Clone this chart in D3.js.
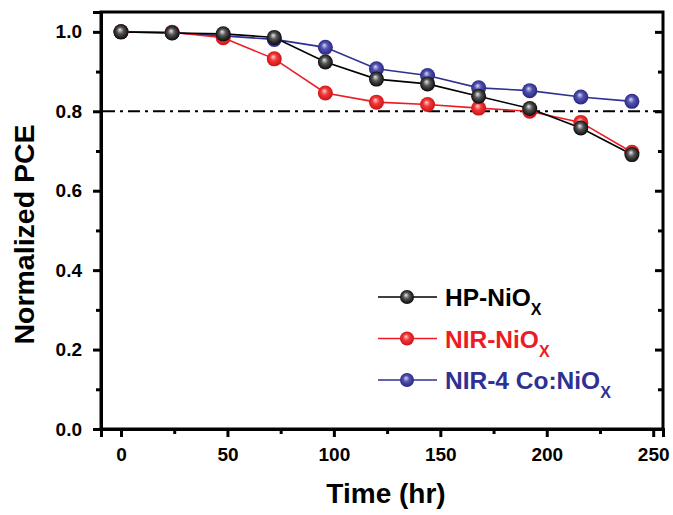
<!DOCTYPE html>
<html lang="en">
<head>
  <meta charset="UTF-8" />
  <title>Normalized PCE vs Time</title>
  <style>
    body { margin: 0; background: #fff; }
    svg { display: block; font-family: Arial, "Liberation Sans", sans-serif; }
    .tick text { font-size: 19px; font-weight: bold; fill: #000; }
    .axis path, .axis line { stroke: #000; }
  </style>
</head>
<body>
<svg id="chart"></svg>
<script src="https://d3js.org/d3.v7.min.js"></script>
<script>
  const width = 673, height = 515;

  // data
  const times = [0, 24, 48, 72, 96, 120, 144, 168, 192, 216, 240];
  const hpNiOx   = [1.000, 0.997, 0.995, 0.986, 0.924, 0.881, 0.869, 0.838, 0.807, 0.758, 0.691];
  const nirNiOx  = [1.000, 0.999, 0.985, 0.932, 0.846, 0.823, 0.817, 0.808, 0.800, 0.772, 0.697];
  const nirCoNiOx = [1.000, 0.998, 0.990, 0.981, 0.961, 0.907, 0.890, 0.859, 0.852, 0.836, 0.825];
  const xTicks = [0, 50, 100, 150, 200, 250];
  const yTicks = [0, 0.2, 0.4, 0.6, 0.8, 1.0];
  const threshold = 0.8;

  const series = [
    { name: "NIR-4 Co:NiO", values: nirCoNiOx, color: "#2e3192", id: "gBlue",  stops: ["#d6d6f5", "#5252b0", "#22227a"] },
    { name: "NIR-NiO",      values: nirNiOx,   color: "#ed1c24", id: "gRed",   stops: ["#ffd0d0", "#f23a3a", "#c80c10"] },
    { name: "HP-NiO",       values: hpNiOx,    color: "#000000", id: "gBlack", stops: ["#e8e8e8", "#555555", "#000000"] }
  ];
  const legendOrder = ["HP-NiO", "NIR-NiO", "NIR-4 Co:NiO"];

  const margin = { top: 12, right: 10, bottom: 86, left: 101 };
  const svg = d3.select("#chart").attr("width", width).attr("height", height);

  const x = d3.scaleLinear().domain([-9.4, 254.6]).range([margin.left, width - margin.right]);
  const y = d3.scaleLinear().domain([0, 1.05]).range([height - margin.bottom, margin.top]);

  // gradients for the ball markers
  const defs = svg.append("defs");
  series.forEach(s => {
    const g = defs.append("radialGradient").attr("id", s.id)
      .attr("cx", "50%").attr("cy", "50%").attr("r", "55%")
      .attr("fx", "42%").attr("fy", "35%");
    g.append("stop").attr("offset", "0%").attr("stop-color", s.stops[0]);
    g.append("stop").attr("offset", "40%").attr("stop-color", s.stops[1]);
    g.append("stop").attr("offset", "100%").attr("stop-color", s.stops[2]);
  });

  // minor ticks
  const xMinor = d3.range(25, 250, 50);
  const yMinor = d3.range(0.1, 1.05, 0.2);

  const xAxisG = svg.append("g").attr("class", "axis")
    .attr("transform", `translate(0,${y(0)})`)
    .call(d3.axisBottom(x).tickValues(xTicks).tickSize(8).tickPadding(11).tickFormat(d3.format("d")));
  xAxisG.selectAll(".tick line").attr("stroke-width", 3);
  svg.append("g").attr("class", "axis")
    .attr("transform", `translate(0,${y(0)})`)
    .call(d3.axisBottom(x).tickValues(xMinor).tickSize(5).tickFormat(""))
    .call(g => g.select(".domain").remove())
    .selectAll(".tick line").attr("stroke-width", 3);

  const yAxisG = svg.append("g").attr("class", "axis")
    .attr("transform", `translate(${margin.left},0)`)
    .call(d3.axisLeft(y).tickValues(yTicks).tickSize(8).tickPadding(11).tickFormat(d3.format(".1f")));
  yAxisG.selectAll(".tick line").attr("stroke-width", 3);
  svg.append("g").attr("class", "axis")
    .attr("transform", `translate(${margin.left},0)`)
    .call(d3.axisLeft(y).tickValues(yMinor).tickSize(5).tickFormat(""))
    .call(g => g.select(".domain").remove())
    .selectAll(".tick line").attr("stroke-width", 3);

  // right axis, ticks pointing in
  const rightX = width - margin.right;
  svg.append("g").attr("class", "axis")
    .attr("transform", `translate(${rightX},0)`)
    .call(d3.axisLeft(y).tickValues(yTicks).tickSize(8).tickFormat(""))
    .call(g => g.select(".domain").remove())
    .selectAll(".tick line").attr("stroke-width", 3);
  svg.append("g").attr("class", "axis")
    .attr("transform", `translate(${rightX},0)`)
    .call(d3.axisLeft(y).tickValues(yMinor).tickSize(5).tickFormat(""))
    .call(g => g.select(".domain").remove())
    .selectAll(".tick line").attr("stroke-width", 3);

  // frame
  svg.append("rect")
    .attr("x", margin.left).attr("y", margin.top)
    .attr("width", rightX - margin.left).attr("height", y(0) - margin.top)
    .attr("fill", "none").attr("stroke", "#000").attr("stroke-width", 3);
  svg.selectAll(".domain").attr("stroke-width", 3);

  // 80% reference line
  svg.append("line")
    .attr("x1", margin.left + 2).attr("x2", rightX - 2)
    .attr("y1", y(threshold)).attr("y2", y(threshold))
    .attr("stroke", "#000").attr("stroke-width", 2)
    .attr("stroke-dasharray", "12,5,3,5");

  const line = d3.line().x((d, i) => x(times[i])).y(d => y(d));

  series.forEach(s => {
    svg.append("path").datum(s.values)
      .attr("fill", "none").attr("stroke", s.color).attr("stroke-width", 1.6)
      .attr("d", line);
  });
  series.forEach(s => {
    svg.append("g").selectAll("circle").data(s.values).join("circle")
      .attr("cx", (d, i) => x(times[i])).attr("cy", d => y(d))
      .attr("r", 7.5).attr("fill", `url(#${s.id})`);
  });

  // legend
  const legend = svg.append("g");
  legendOrder.forEach((name, i) => {
    const s = series.find(d => d.name === name);
    const ly = 297 + i * 41.5;
    legend.append("line").attr("x1", 378).attr("x2", 437).attr("y1", ly).attr("y2", ly)
      .attr("stroke", s.color).attr("stroke-width", 1.6);
    legend.append("circle").attr("cx", 407).attr("cy", ly).attr("r", 7).attr("fill", `url(#${s.id})`);
    const t = legend.append("text").attr("x", 445).attr("y", ly + 9)
      .attr("fill", s.color).attr("font-size", 24.5).attr("font-weight", "bold");
    t.append("tspan").text(name);
    t.append("tspan").attr("dy", 9).attr("font-size", 16).text("X");
  });

  // axis titles
  svg.append("text")
    .attr("x", (margin.left + rightX) / 2 + 4).attr("y", 503)
    .attr("text-anchor", "middle").attr("font-size", 28).attr("font-weight", "bold")
    .text("Time (hr)");
  svg.append("text")
    .attr("transform", `translate(34,${(margin.top + y(0)) / 2 + 14}) rotate(-90)`)
    .attr("text-anchor", "middle").attr("font-size", 28.5).attr("font-weight", "bold")
    .text("Normalized PCE");
</script>
</body>
</html>
